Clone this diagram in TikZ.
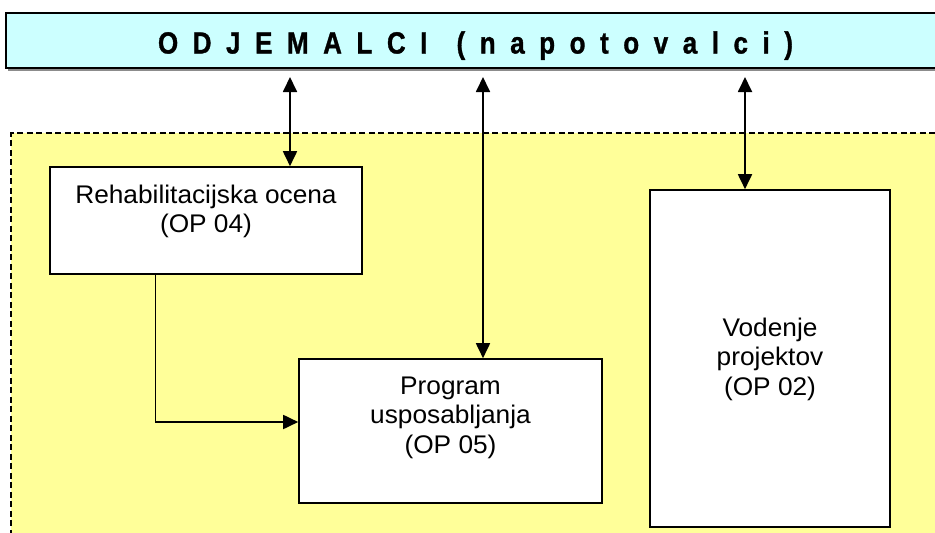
\documentclass[tikz,border=0pt]{standalone}
\usepackage{fontspec}
\usepackage{graphicx}
\setmainfont{Liberation Sans}
\newfontfamily\titlefont[BoldFeatures={FakeBold=1.2}]{Liberation Sans}
\usetikzlibrary{arrows.meta}
\definecolor{barcyan}{HTML}{CCFFFF}
\definecolor{areayellow}{HTML}{FFFF99}
\newcommand\boxtext[1]{\scalebox{1.03}[1]{\begin{tabular}[t]{@{}c@{}}#1\end{tabular}}}
\tikzset{
  box/.style={draw=black, line width=1.6pt, fill=white, inner sep=0pt},
  conn/.style={line width=1.8pt, draw=black},
  onetip/.style={-{Triangle[length=15pt,width=14pt]}},
  twotips/.style={{Triangle[length=15pt,width=14pt]}-{Triangle[length=15pt,width=14pt]}},
  boxlabel/.style={font=\fontsize{25.5}{29.5}\selectfont, inner sep=0pt, anchor=base},
  arealine/.style={line width=1.5pt, dash pattern=on 6pt off 3.5pt}
}
\begin{document}
\begin{tikzpicture}[x=1pt,y=-1pt]
\useasboundingbox (0,0) rectangle (935,533);
\clip (0,0) rectangle (935,533);
% yellow area
\fill[areayellow] (11,133) rectangle (945,545);
\draw[arealine] (11,545) -- (11,133) -- (945,133);
% top bar
\fill[black!45] (8,15) rectangle (947,70.5);
\node[box, fill=barcyan, minimum width=939pt, minimum height=55pt] (bar) at (475.5,40.5) {};
\node[anchor=base, inner sep=0pt] (title) at (475.5,53.5)
  {\resizebox*{635pt}{28.5pt}{\titlefont\bfseries\spaceskip=0.56em\relax O D J E M A L C I\ \ ( n a p o t o v a l c i )}};
% boxes
\node[box, minimum width=312pt, minimum height=107pt] (rehab) at (206,220.5) {};
\node[box, minimum width=303pt, minimum height=144pt] (prog) at (450.5,431) {};
\node[box, minimum width=240pt, minimum height=337pt] (vod) at (770,358.5) {};
% labels
\node[boxlabel] (rehabtxt) at (206,203) {\boxtext{Rehabilitacijska ocena\\(OP 04)}};
\node[boxlabel] (progtxt) at (450.5,394) {\boxtext{Program\\usposabljanja\\(OP 05)}};
\node[boxlabel] (vodtxt) at (770,336) {\boxtext{Vodenje\\projektov\\(OP 02)}};
% connectors
\coordinate (t1) at (290,77);
\coordinate (t2) at (483,77);
\coordinate (t3) at (745,77);
\coordinate (elbow) at (155.5,422);
\draw[conn,twotips] (t1) -- (t1 |- rehab.north);
\draw[conn,twotips] (t2) -- (t2 |- prog.north);
\draw[conn,twotips] (t3) -- (t3 |- vod.north);
\draw[conn,onetip] (elbow |- rehab.south) -- (elbow) -- (elbow -| prog.west);
\end{tikzpicture}
\end{document}
